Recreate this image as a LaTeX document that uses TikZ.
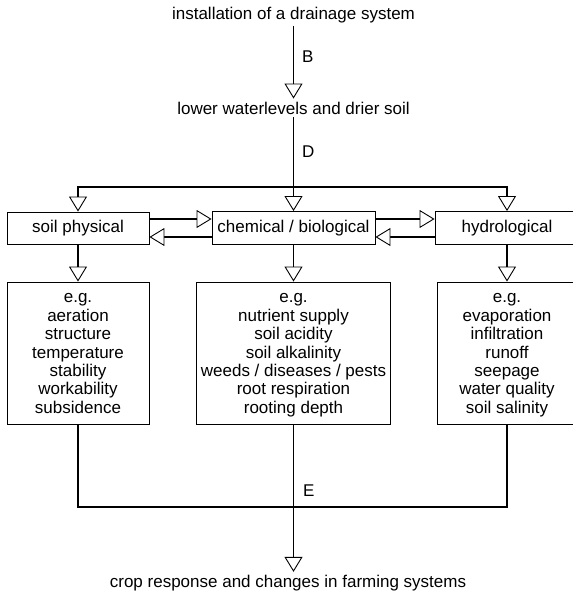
\documentclass[tikz,border=0pt]{standalone}
\usepackage{fontspec}
\setmainfont{Liberation Sans}
\usetikzlibrary{arrows.meta}
\begin{document}
\begin{tikzpicture}[x=1pt,y=-1pt,
  conn/.style={line width=1.7pt},
  tip/.style={-{Triangle[length=15pt,width=18pt,fill=white,line width=0.9pt]}},
  lbl/.style={font=\fontsize{17}{18.4}\selectfont},
  txt/.style={lbl, inner sep=3pt},
  box/.style={draw, line width=0.9pt, lbl, align=center, inner sep=0pt},
  list/.style={lbl, align=center, inner sep=0pt, anchor=north}]
\useasboundingbox (0,0) rectangle (572,596);
% texts
\node[txt] (top) at (293.5,15) {installation of a drainage system};
\node[txt] (lower) at (293.5,108) {lower waterlevels and drier soil};
\node[txt] (crop) at (288,583) {crop response and changes in farming systems};
% row 1
\node[box, minimum width=142pt, minimum height=32pt] (soil) at (78,228) {soil physical};
\node[box, minimum width=163pt, minimum height=33pt] (chem) at (293.5,228) {chemical / biological};
\node[box, minimum width=144pt, minimum height=33pt] (hydro) at (507,228) {hydrological};
% row 2
\node[box, minimum width=142pt, minimum height=142pt] (soilx) at (78,353) {};
\node[box, minimum width=194pt, minimum height=142pt] (chemx) at (293.5,353) {};
\node[box, minimum width=140pt, minimum height=142pt] (hydrox) at (507,353) {};
\node[list] (soilt) at (78,293.6) {e.g.\\aeration\\structure\\temperature\\stability\\workability\\subsidence};
\node[list] (chemt) at (293.5,293.6) {e.g.\\nutrient supply\\soil acidity\\soil alkalinity\\weeds / diseases / pests\\root respiration\\rooting depth};
\node[list] (hydrot) at (507,293.6) {e.g.\\evaporation\\infiltration\\runoff\\seepage\\water quality\\soil salinity};
% junctions
\coordinate (jD) at (293.5,187);
\coordinate (jE) at (293.5,507);
% connectors
\draw[conn,tip] (top.south) -- (lower.north);
\node[lbl, anchor=west, inner sep=0pt] (labB) at (302,57) {B};
\draw[conn] (lower.south) -- (jD);
\node[lbl, anchor=west, inner sep=0pt] (labD) at (302,152) {D};
\draw[conn,tip] (jD) -| (soil.north);
\draw[conn,tip] (jD) -| (hydro.north);
\draw[conn,tip] (jD) -- (chem.north);
\draw[conn,tip] ([yshift=9pt]soil.east) -- ([yshift=9pt]chem.west);
\draw[conn,tip] ([yshift=-9pt]chem.west) -- ([yshift=-9pt]soil.east);
\draw[conn,tip] ([yshift=9pt]chem.east) -- ([yshift=9pt]hydro.west);
\draw[conn,tip] ([yshift=-9pt]hydro.west) -- ([yshift=-9pt]chem.east);
\draw[conn,tip] (soil.south) -- (soilx.north);
\draw[conn,tip] (chem.south) -- (chemx.north);
\draw[conn,tip] (hydro.south) -- (hydrox.north);
\draw[conn] (soilx.south) |- (jE) -| (hydrox.south);
\draw[conn,tip] (chemx.south) -- (chemx.south |- crop.north);
\node[lbl, anchor=west, inner sep=0pt] (labE) at (303,491) {E};
\end{tikzpicture}
\end{document}
